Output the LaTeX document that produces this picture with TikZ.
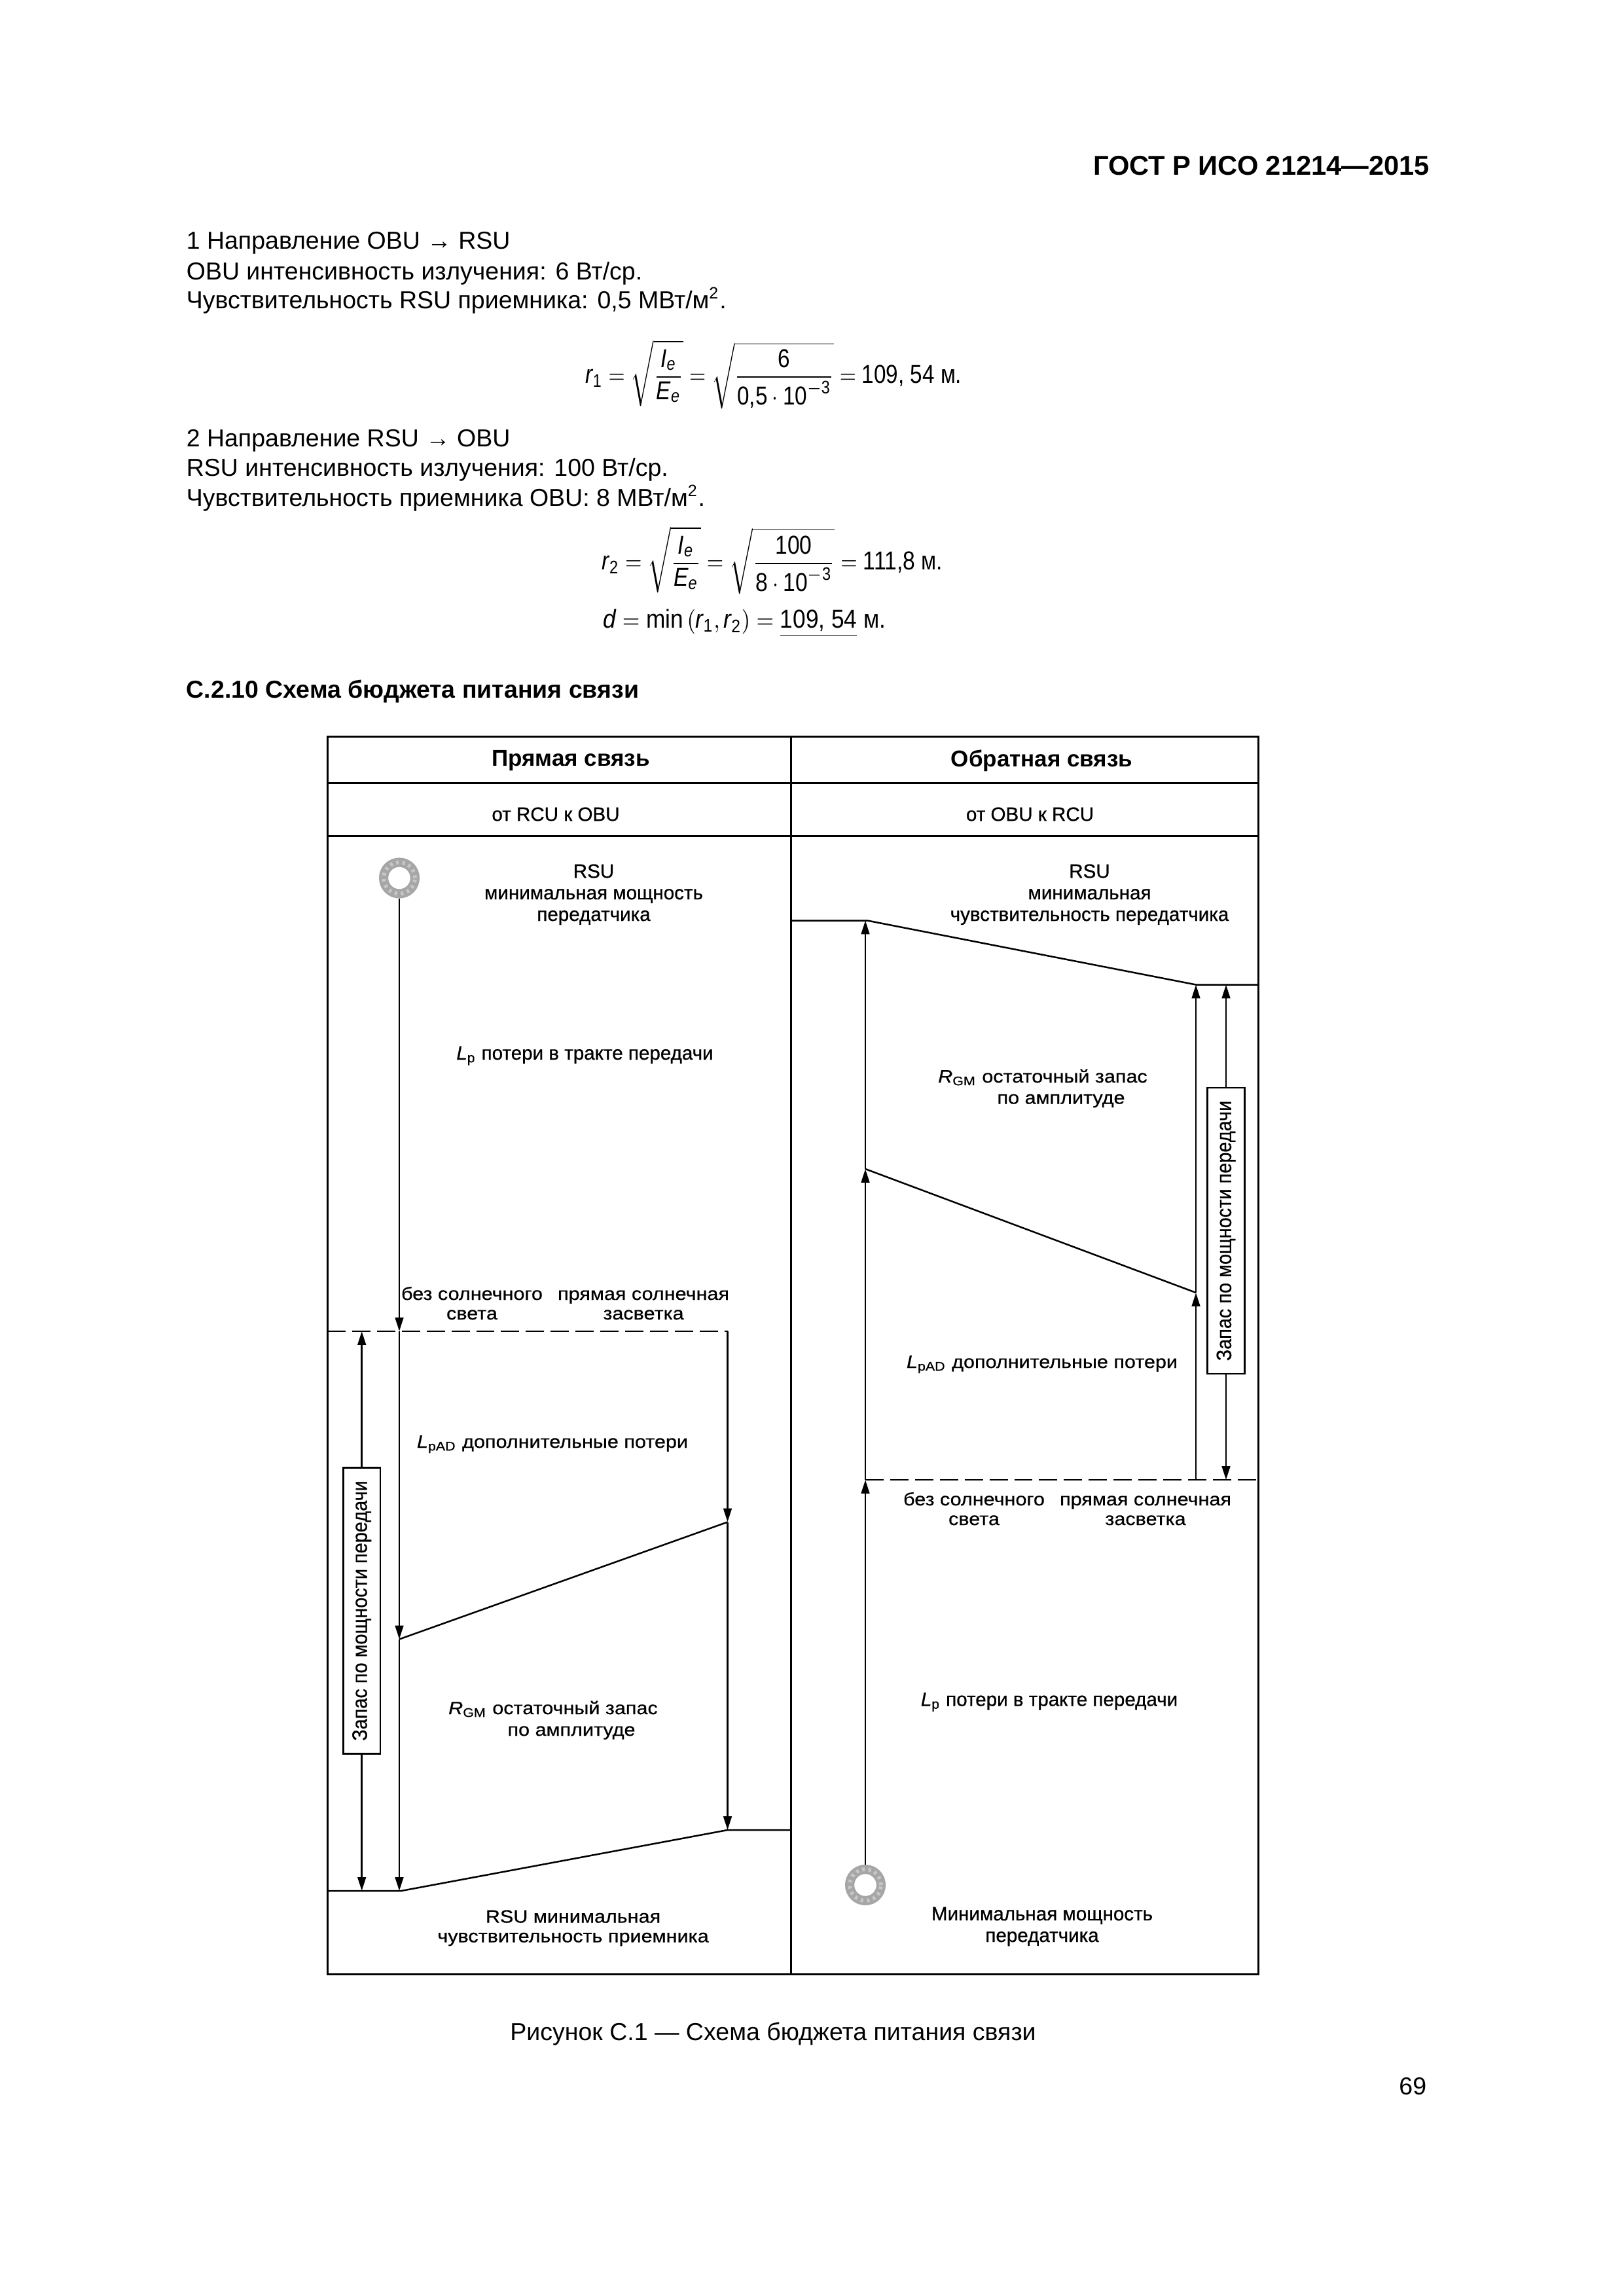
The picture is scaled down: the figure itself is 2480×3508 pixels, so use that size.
\documentclass[tikz,border=0pt]{standalone}
\usepackage{fontspec}
\setmainfont{Liberation Sans}
\newfontfamily\labf[FakeBold=0.7]{Liberation Sans}
\newfontfamily\labw[FakeBold=0.7,FakeStretch=1.12]{Liberation Sans}
\newfontfamily\labn[FakeBold=0.5,FakeStretch=0.9]{Liberation Sans}
\usetikzlibrary{arrows.meta}
\newcommand{\symsub}[2]{{\itshape #1}\textsubscript{#2}}
\newcommand{\dg}[1]{\mbox{#1}}
\tikzset{
  body/.style={anchor=base west,inner sep=0pt,font=\fontsize{9}{11}\selectfont},
  fml/.style={anchor=west,inner sep=0pt,font=\fontsize{9.5}{11}\selectfont},
  lab/.style={anchor=base,inner sep=0pt,align=center,font=\labf\fontsize{7.1}{7.9}\selectfont},
  labwide/.style={anchor=base,inner sep=0pt,align=center,font=\labw\fontsize{6.55}{7.2}\selectfont},
  hd/.style={anchor=center,inner sep=0pt,font=\bfseries\fontsize{8.4}{11}\selectfont},
  frameline/.style={line width=0.72pt},
  thinline/.style={line width=0.6pt},
  arr/.style={line width=0.7pt,-{Triangle[length=5pt,width=3pt]}},
  dashline/.style={line width=0.6pt,dash pattern=on 6.7pt off 2.4pt},
  ringnode/.style={circle,draw=gray!70,line width=3.4pt,fill=white,inner sep=0pt,minimum size=11.5pt,
    postaction={draw=gray!45,line width=1.4pt,dash pattern=on 1pt off 1.3pt}},
  sidebox/.style={draw,line width=0.6pt,fill=white,rotate=90,inner sep=0pt,minimum width=104.9pt,minimum height=13.6pt,font=\labn\fontsize{7.7}{9}\selectfont},
}
\begin{document}
\begin{tikzpicture}[x=0.24pt,y=-0.24pt]
\useasboundingbox (0,0) rectangle (2480,3508);
% page text
\node[anchor=base east,inner sep=0pt,font=\bfseries\fontsize{10}{12}\selectfont] (hdr) at (2185,268) {ГОСТ Р ИСО 21214—2015};
\node[body] (t1) at (284,381) {1 Направление OBU → RSU};
\node[body] (t2) at (284,428) {OBU интенсивность излучения: 6 Вт/ср.};
\node[body] (t3) at (284,472) {Чувствительность RSU приемника: 0,5 МВт/м\textsuperscript{2}.};
\node[fml] (f1) at (894,572) {\scalebox{0.84}[1]{$\displaystyle \mathit{r}_{\mathrm{1}}=\sqrt{\frac{\mathit{I}_{\mathit{e}}}{\mathit{E}_{\mathit{e}}}}=\sqrt{\frac{\dg{6}}{\dg{0,5}\cdot \dg{10}^{-\mathrm{3}}}}=\dg{109, 54 м.}$}};
\node[body] (t4) at (284,683) {2 Направление RSU → OBU};
\node[body] (t5) at (284,728) {RSU интенсивность излучения: 100 Вт/ср.};
\node[body] (t6) at (284,774) {Чувствительность приемника OBU: 8 МВт/м\textsuperscript{2}.};
\node[fml] (f2) at (919,856) {\scalebox{0.85}[1]{$\displaystyle \mathit{r}_{\mathrm{2}}=\sqrt{\frac{\mathit{I}_{\mathit{e}}}{\mathit{E}_{\mathit{e}}}}=\sqrt{\frac{\dg{100}}{\dg{8}\cdot \dg{10}^{-\mathrm{3}}}}=\dg{111,8 м.}$}};
\node[fml] (f3) at (921,952) {\scalebox{0.89}[1]{$\displaystyle \mathit{d}=\min\left(\mathit{r}_{\mathrm{1}},\mathit{r}_{\mathrm{2}}\right)=\underline{\dg{109, 54}}\ \dg{м.}$}};
\node[body,font=\bfseries\fontsize{9}{11}\selectfont] (sec) at (284,1066) {С.2.10 Схема бюджета питания связи};
\node[anchor=base,inner sep=0pt,font=\fontsize{9}{11}\selectfont] (cap) at (1181,3117) {Рисунок С.1 — Схема бюджета питания связи};
\node[anchor=base east,inner sep=0pt,font=\fontsize{9}{11}\selectfont] (pg) at (2180,3200) {69};
% frame coordinates
\coordinate (NW) at (500,1125); \coordinate (NE) at (1922,1125);
\coordinate (SW) at (500,3016); \coordinate (SE) at (1922,3016);
\coordinate (MT) at (1208,1125); \coordinate (MB) at (1208,3016);
\coordinate (A1) at (500,1196); \coordinate (A2) at (1922,1196);
\coordinate (B1) at (500,1277); \coordinate (B2) at (1922,1277);
\draw[frameline] (NW) -- (NE) -- (SE) -- (SW) -- cycle;
\draw[frameline] (MT) -- (MB);
\draw[frameline] (A1) -- (A2);
\draw[frameline] (B1) -- (B2);
% left column
\node[ringnode] (ringL) at (610,1341.5) {};
\coordinate (La) at (610,2034); \coordinate (Lb) at (610,2504.5); \coordinate (Lc) at (610,2889);
\coordinate (Ld0) at (500,2034); \coordinate (Ld1) at (1111.5,2034);
\coordinate (Le) at (1111.5,2325.5); \coordinate (Lf) at (1111.5,2796);
\coordinate (Lg) at (613,2889); \coordinate (Lg0) at (500,2889); \coordinate (Lh) at (1208,2796);
\coordinate (LmT) at (552.7,2034); \coordinate (LmB) at (552.7,2889);
\draw[dashline] (Ld0) -- (Ld1);
\draw[arr] (ringL.south) -- (La);
\draw[arr] (La) -- (Lb);
\draw[arr] (Lb) -- (Lc);
\draw[arr] (Ld1) -- (Le);
\draw[arr] (Le) -- (Lf);
\draw[thinline] (Lb) -- (Le);
\draw[thinline] (Lg0) -- (Lg) -- (Lf) -- (Lh);
\node[sidebox] (boxL) at (552.7,2461) {Запас по мощности передачи};
\draw[arr] (boxL.east) -- (LmT);
\draw[arr] (boxL.west) -- (LmB);
% right column
\node[ringnode] (ringR) at (1322,2880) {};
\coordinate (Ra) at (1322,2261); \coordinate (Rb) at (1322,1786); \coordinate (Rc) at (1322,1406.5);
\coordinate (Rc0) at (1208,1406.5); \coordinate (Rc1) at (1325,1406.5);
\coordinate (Rd0) at (1322,2261); \coordinate (Rd1) at (1922,2261);
\coordinate (Re0) at (1827,2261); \coordinate (Re) at (1827,1975); \coordinate (Rf) at (1827,1504.5);
\coordinate (Rg) at (1922,1504.5);
\coordinate (RmT) at (1873,1504.5); \coordinate (RmB) at (1873,2261);
\draw[dashline] (Rd0) -- (Rd1);
\draw[arr] (ringR.north) -- (Ra);
\draw[arr] (Ra) -- (Rb);
\draw[arr] (Rb) -- (Rc);
\draw[arr] (Re0) -- (Re);
\draw[arr] (Re) -- (Rf);
\draw[thinline] (Rb) -- (Re);
\draw[thinline] (Rc0) -- (Rc1) -- (Rf) -- (Rg);
\node[sidebox] (boxR) at (1873,1880.5) {Запас по мощности передачи};
\draw[arr] (boxR.east) -- (RmT);
\draw[arr] (boxR.west) -- (RmB);
% headers
\node[hd] (h1) at (872,1162) {Прямая связь};
\node[hd] (h2) at (1591.5,1162) {Обратная связь};
\node[lab,anchor=center] (s1) at (849,1244) {от RCU к OBU};
\node[lab,anchor=center] (s2) at (1573.5,1244) {от OBU к RCU};
% left labels
\node[lab] (l1) at (907,1407) {RSU\\минимальная мощность\\передатчика};
\node[lab] (l2) at (893.5,1619) {\symsub{L}{p} потери в тракте передачи};
\node[labwide] (l3) at (721,2016) {без солнечного\\света};
\node[labwide] (l4) at (983,2016) {прямая солнечная\\засветка};
\node[labwide] (l5) at (844,2212) {\symsub{L}{pAD} дополнительные потери};
\node[labwide] (l6) at (845,2619) {\symsub{R}{GM} остаточный запас};
\node[labwide] (l7) at (873,2652) {по амплитуде};
\node[labwide] (l8) at (875.5,2967.5) {RSU минимальная\\чувствительность приемника};
% right labels
\node[lab] (r1) at (1664.5,1407) {RSU\\минимальная\\чувствительность передатчика};
\node[labwide] (r2) at (1593,1654) {\symsub{R}{GM} остаточный запас};
\node[labwide] (r3) at (1621,1686.5) {по амплитуде};
\node[labwide] (r4) at (1592,2090) {\symsub{L}{pAD} дополнительные потери};
\node[labwide] (r5) at (1488,2330) {без солнечного\\света};
\node[labwide] (r6) at (1750,2330) {прямая солнечная\\засветка};
\node[lab] (r7) at (1603,2606.5) {\symsub{L}{p} потери в тракте передачи};
\node[lab] (r8) at (1592,2967) {Минимальная мощность\\передатчика};
\end{tikzpicture}
\end{document}
